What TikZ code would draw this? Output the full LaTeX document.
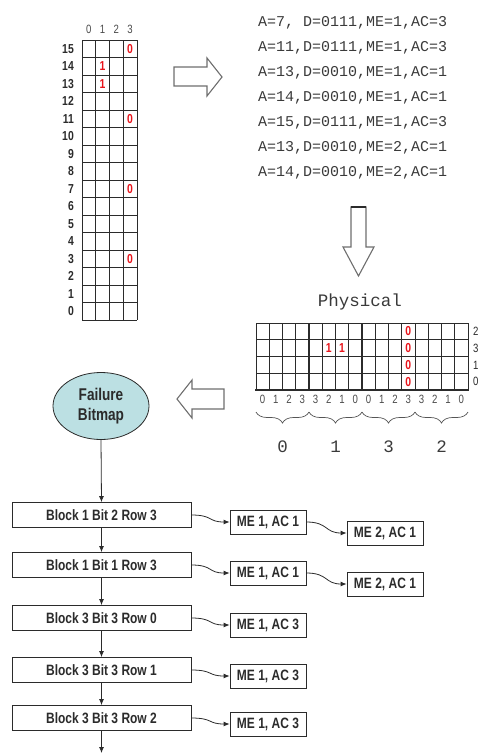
\documentclass[tikz,border=0pt]{standalone}
\usepackage{fontspec}
\setmainfont{Liberation Sans}
\newfontfamily\nsans[FakeStretch=0.8]{Liberation Sans}
\newfontfamily\mono{Liberation Mono}
\usetikzlibrary{arrows.meta,decorations.pathreplacing,shapes.geometric}

\definecolor{bitred}{HTML}{E8141B}
\definecolor{bubble}{HTML}{BCE0E3}
\definecolor{ink}{HTML}{2B2B2B}
\definecolor{codeink}{HTML}{3A3A3A}
\definecolor{hollow}{HTML}{6E6E6E}

\tikzset{
  gridln/.style={draw=ink, line width=0.9pt},
  thickln/.style={draw=ink, line width=1.8pt},
  rowlbl/.style={anchor=east, inner sep=0pt, font=\nsans\bfseries\fontsize{13pt}{14pt}\selectfont, text=ink},
  collbl/.style={inner sep=0pt, font=\nsans\fontsize{12pt}{13pt}\selectfont, text=ink!85},
  redbit/.style={inner sep=0pt, font=\nsans\bfseries\fontsize{13pt}{14pt}\selectfont, text=bitred},
  codeline/.style={anchor=west, inner sep=0pt, font=\mono\fontsize{15pt}{16pt}\selectfont, text=codeink},
  biglbl/.style={inner sep=0pt, font=\mono\fontsize{17.5pt}{18pt}\selectfont, text=codeink},
  bigarrow/.style={draw=hollow, line width=1.1pt, fill=white, line join=miter},
  blockbox/.style={draw=ink, line width=0.8pt, minimum width=179pt, minimum height=25pt, inner sep=0pt,
    font=\nsans\bfseries\fontsize{15pt}{16pt}\selectfont, text=ink},
  mebox/.style={draw=ink, line width=0.8pt, minimum width=76pt, minimum height=24pt, inner sep=0pt,
    font=\nsans\bfseries\fontsize{15pt}{16pt}\selectfont, text=ink},
  vlink/.style={draw=ink, line width=0.8pt, -{Latex[length=6pt,width=5pt]}},
  wavy/.style={draw=ink, line width=0.8pt, -{Latex[length=6pt,width=5pt]}},
  brc/.style={draw=ink!80, line width=0.7pt, decorate, decoration={brace, amplitude=11pt, aspect=0.5}}
}

\begin{document}
\begin{tikzpicture}[x=1pt, y=-1pt]
\useasboundingbox (0,0) rectangle (478,753);

% ---------- logical bitmap (16 addresses x 4 bits) ----------
\foreach \c in {0,...,4}
  \draw[gridln] ({82+13.75*\c},40) -- ({82+13.75*\c},320);
\foreach \r in {0,...,16}
  \draw[gridln] (82,{40+17.5*\r}) -- (137,{40+17.5*\r});
\foreach \c in {0,...,3}
  \node[collbl] (lh\c) at ({82+13.75*(\c+0.5)},29) {\c};
\foreach \r in {0,...,15}
  \node[rowlbl] (la\r) at (74,{40+(15.5-\r)*17.5}) {\r};
\foreach \c/\r/\v in {3/15/0, 1/14/1, 1/13/1, 3/11/0, 3/7/0, 3/3/0}
  \node[redbit] (lb\r-\c) at ({82+13.75*(\c+0.5)},{40+(15.5-\r)*17.5}) {\v};

% ---------- failing accesses ----------
\foreach \t [count=\i from 0] in {%
  {A=7, D=0111,ME=1,AC=3},
  {A=11,D=0111,ME=1,AC=3},
  {A=13,D=0010,ME=1,AC=1},
  {A=14,D=0010,ME=1,AC=1},
  {A=15,D=0111,ME=1,AC=3},
  {A=13,D=0010,ME=2,AC=1},
  {A=14,D=0010,ME=2,AC=1}}
  \node[codeline] (code\i) at (258,{23+25*\i}) {\t};

% ---------- hollow block arrows ----------
\draw[bigarrow] (174,67) -- (207,67) -- (207,58) -- (222,77) -- (207,96) -- (207,86) -- (174,86) -- cycle;
\draw[bigarrow] (351,207) -- (366,207) -- (366,247) -- (374,247) -- (358.5,276) -- (343,247) -- (351,247) -- cycle;
\draw[ink, line width=1.1pt] (351,207) -- (366,207);
\draw[bigarrow] (224,389) -- (192,389) -- (192,380) -- (177,399) -- (192,418) -- (192,409) -- (224,409) -- cycle;

% ---------- physical array (4 rows x 16 columns) ----------
\node[biglbl] (phys) at (360,302) {Physical};
\foreach \c in {0,...,16}
  \draw[gridln] ({256+13.25*\c},323) -- ({256+13.25*\c},390);
\foreach \r in {0,...,3}
  \draw[gridln] (256,{323+16.75*\r}) -- (468,{323+16.75*\r});
\draw[thickln] (309,323) -- (309,390);
\draw[thickln] (362,323) -- (362,390);
\draw[thickln] (255,390) -- (469,390);
\foreach \v [count=\c from 0] in {0,1,2,3,3,2,1,0,0,1,2,3,3,2,1,0}
  \node[collbl] (pc\c) at ({256+13.25*(\c+0.5)},399) {\v};
\foreach \v [count=\r from 0] in {2,3,1,0}
  \node[anchor=west, inner sep=0pt, font=\nsans\fontsize{12pt}{13pt}\selectfont, text=ink] (pr\r) at (473,{323+16.75*(\r+0.5)}) {\v};
\foreach \c/\r/\v in {11/0/0, 11/1/0, 11/2/0, 11/3/0, 5/1/1, 6/1/1}
  \node[redbit] (pb\r-\c) at ({256+13.25*(\c+0.5)},{323+16.75*(\r+0.5)}) {\v};
\foreach \g [count=\k from 0] in {0,1,3,2} {
  \draw[brc] ({309+53*\k},412) -- ({256+53*\k},412);
  \node[biglbl] (grp\k) at ({282.5+53*\k},447) {\g};
}

% ---------- failure bitmap and its list ----------
\node[ellipse, draw=ink, line width=0.8pt, fill=bubble, minimum width=96pt, minimum height=67pt, inner sep=0pt,
  align=center, font=\nsans\bfseries\fontsize{17pt}{20pt}\selectfont, text=ink] (fb) at (101,406) {Failure\\Bitmap};

\node[blockbox] (b1) at (101.5,515) {Block 1 Bit 2 Row 3};
\node[blockbox] (b2) at (101.5,565) {Block 1 Bit 1 Row 3};
\node[blockbox] (b3) at (101.5,618) {Block 3 Bit 3 Row 0};
\node[blockbox] (b4) at (101.5,670) {Block 3 Bit 3 Row 1};
\node[blockbox] (b5) at (101.5,718) {Block 3 Bit 3 Row 2};
\coordinate (tail) at (101.5,753);

\node[mebox] (m1) at (268,522) {ME 1, AC 1};
\node[mebox] (m2) at (268,573) {ME 1, AC 1};
\node[mebox] (m3) at (268,625) {ME 1, AC 3};
\node[mebox] (m4) at (268,676) {ME 1, AC 3};
\node[mebox] (m5) at (268,724) {ME 1, AC 3};
\node[mebox] (n1) at (385,533) {ME 2, AC 1};
\node[mebox] (n2) at (385,584) {ME 2, AC 1};

\draw[vlink] (fb.south) -- (b1.north);
\draw[vlink] (b1) -- (b2);
\draw[vlink] (b2) -- (b3);
\draw[vlink] (b3) -- (b4);
\draw[vlink] (b4) -- (b5);
\draw[vlink] (b5) -- (tail);

\foreach \a/\b in {b1/m1, b2/m2, b3/m3, b4/m4, b5/m5, m1/n1, m2/n2}
  \draw[wavy] (\a.east) .. controls +(22,0) and +(-22,0) .. (\b.west);
\end{tikzpicture}
\end{document}
